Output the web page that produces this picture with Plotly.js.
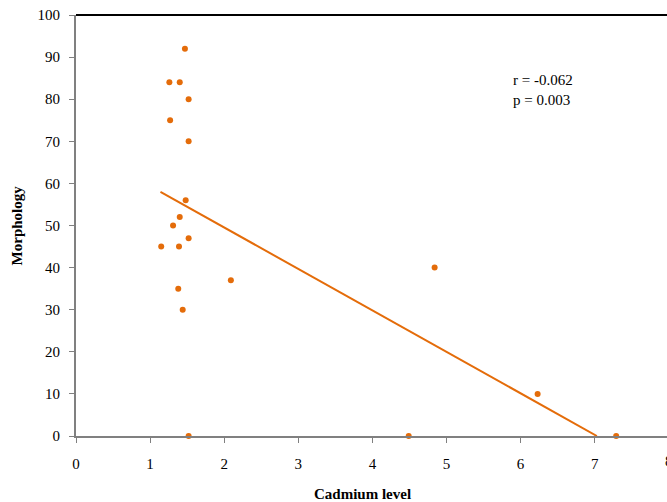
<!DOCTYPE html>
<html>
<head>
<meta charset="utf-8">
<script src="https://cdn.plot.ly/plotly-3.0.1.min.js"></script>
<style>html,body{margin:0;padding:0;background:#fff;}#chart{width:667px;height:502px;}</style>
</head>
<body>
<div id="chart"></div>
<script>
var cadmium = [1.47, 1.26, 1.40, 1.52, 1.27, 1.52, 1.48, 1.40, 1.31, 1.52, 1.15, 1.39, 1.38, 1.44, 1.52, 2.09, 4.84, 4.49, 6.23, 7.29];
var morphology = [92, 84, 84, 80, 75, 70, 56, 52, 50, 47, 45, 45, 35, 30, 0, 37, 40, 0, 10, 0];
var trendX = [1.14, 7.03];
var trendY = [58, 0];
var xTicks = [0, 1, 2, 3, 4, 5, 6, 7];
var yTicks = [0, 10, 20, 30, 40, 50, 60, 70, 80, 90, 100];
var statsText = ["r = -0.062", "p = 0.003"];

var orange = "#E46C0A";
var font = "Liberation Serif, Times New Roman, serif";

var data = [
  {x: cadmium, y: morphology, type: "scatter", mode: "markers",
   marker: {color: orange, size: 6}, cliponaxis: false, hoverinfo: "x+y"},
  {x: trendX, y: trendY, type: "scatter", mode: "lines",
   line: {color: orange, width: 2}, hoverinfo: "skip"}
];

var layout = {
  width: 667, height: 502,
  margin: {l: 76, r: 0, t: 15, b: 66},
  paper_bgcolor: "#fff", plot_bgcolor: "#fff",
  showlegend: false,
  font: {family: font, size: 15, color: "#000"},
  xaxis: {range: [0, 7.976], tickvals: xTicks, ticktext: xTicks.map(String),
    showgrid: false, zeroline: false, showline: true, linecolor: "#808080", linewidth: 2,
    ticks: "outside", ticklen: 5, tickcolor: "#808080", tickwidth: 1,
    tickfont: {family: font, size: 15}, ticklabelstandoff: 8},
  yaxis: {range: [0, 100], tickvals: yTicks,
    showgrid: false, zeroline: false, showline: true, linecolor: "#808080", linewidth: 2,
    ticks: "outside", ticklen: 5, tickcolor: "#808080", tickwidth: 1,
    tickfont: {family: font, size: 15}, ticklabelstandoff: 6},
  shapes: [
    {type: "line", xref: "paper", yref: "paper", x0: 0, x1: 1, y0: 1, y1: 1,
     line: {color: "#000", width: 2}}
  ],
  annotations: [
    {xref: "paper", yref: "paper", x: 1.003, y: -0.035, xanchor: "center", yanchor: "top",
     text: "8", showarrow: false, font: {family: font, size: 15}},
    {xref: "paper", yref: "paper", x: 0.484, y: -0.115, xanchor: "center", yanchor: "top",
     text: "<b>Cadmium level</b>", showarrow: false, font: {family: font, size: 15}},
    {xref: "paper", yref: "paper", x: -0.1, y: 0.5, xanchor: "center", yanchor: "middle",
     text: "<b>Morphology</b>", textangle: -90, showarrow: false, font: {family: font, size: 15}},
    {xref: "paper", yref: "paper", x: 0.736, y: 0.822, xanchor: "left", yanchor: "middle",
     text: statsText.join("<br>"), align: "left", showarrow: false, font: {family: font, size: 15}}
  ]
};

Plotly.newPlot("chart", data, layout, {displayModeBar: false, staticPlot: true});
</script>
</body>
</html>
